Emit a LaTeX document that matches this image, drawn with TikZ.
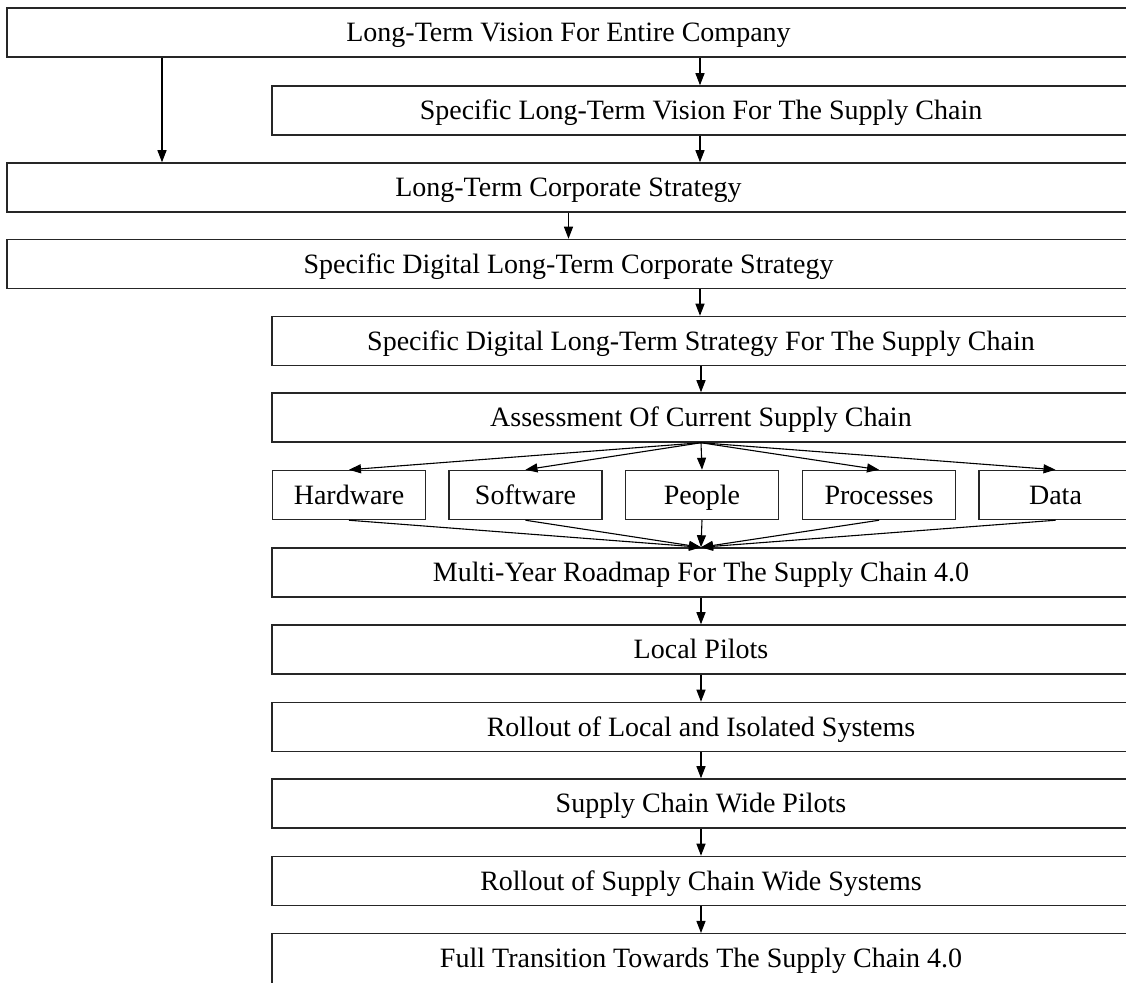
\documentclass[tikz,border=0pt]{standalone}
\usepackage{fontspec}
\setmainfont{Liberation Serif}
\usetikzlibrary{arrows.meta}

\tikzset{
 box/.style={draw=black!85, line width=.75pt, inner sep=0pt,
   text height=17pt, text depth=7.5pt, font=\fontsize{14}{16}\selectfont},
 wide/.style={box, minimum width=561.5pt},
 half/.style={box, minimum width=429pt},
 part/.style={box, minimum width=76.5pt},
 arr/.style={-{Triangle[length=6pt,width=4.5pt]}, line width=.55pt},
}

\begin{document}
\begin{tikzpicture}[x=.5pt,y=-.5pt]
 \useasboundingbox (0,0) rectangle (1126,983);
 \clip (0,0) rectangle (1126,983);
 % vision and strategy
 \node[wide] (V)  at (568.5,32.5) {Long-Term Vision For Entire Company};
 \node[half] (Vs) at (701,110.5)  {Specific Long-Term Vision For The Supply Chain};
 \node[wide] (S)  at (568.5,187.5) {Long-Term Corporate Strategy};
 \node[wide] (Sd) at (568.5,264)  {Specific Digital Long-Term Corporate Strategy};
 \node[half] (Ss) at (701,341)    {Specific Digital Long-Term Strategy For The Supply Chain};
 \node[half] (A)  at (701,417.5)  {Assessment Of Current Supply Chain};
 % roadmap and rollout
 \node[half] (R)  at (701,572.5)  {Multi-Year Roadmap For The Supply Chain 4.0};
 \node[half] (LP) at (701,649.5)  {Local Pilots};
 \node[half] (RL) at (701,727)    {Rollout of Local and Isolated Systems};
 \node[half] (WP) at (701,803.5)  {Supply Chain Wide Pilots};
 \node[half] (RW) at (701,881)    {Rollout of Supply Chain Wide Systems};
 \node[half, text depth=10pt, anchor=north] (FT) at (701,933)
   {Full Transition Towards The Supply Chain 4.0};
 \coordinate (l) at (162,0);
 \draw[arr] (V.south -| l) -- (S.north -| l);
 \draw[arr] (V.south -| 700,0) -- (Vs.north -| 700,0);
 \draw[arr] (Vs.south -| 700,0) -- (S.north -| 700,0);
 \draw[arr] (S) -- (Sd);
 \draw[arr] (Sd.south -| 700,0) -- (Ss.north -| 700,0);
 \foreach \a/\b in {Ss/A, R/LP, LP/RL, RL/WP, WP/RW, RW/FT}
   \draw[arr] (\a) -- (\b);
 % assessment areas
 \foreach \n/\x/\t in {Hw/349/Hardware, Sw/525.5/Software, Pe/702/People,
                       Pr/879/Processes, Da/1055.5/Data}{
   \node[part] (\n) at (\x,495) {\t};
   \draw[arr] (A.south) -- (\n.north);
   \draw[arr] (\n.south) -- (R.north);
 }
\end{tikzpicture}
\end{document}
